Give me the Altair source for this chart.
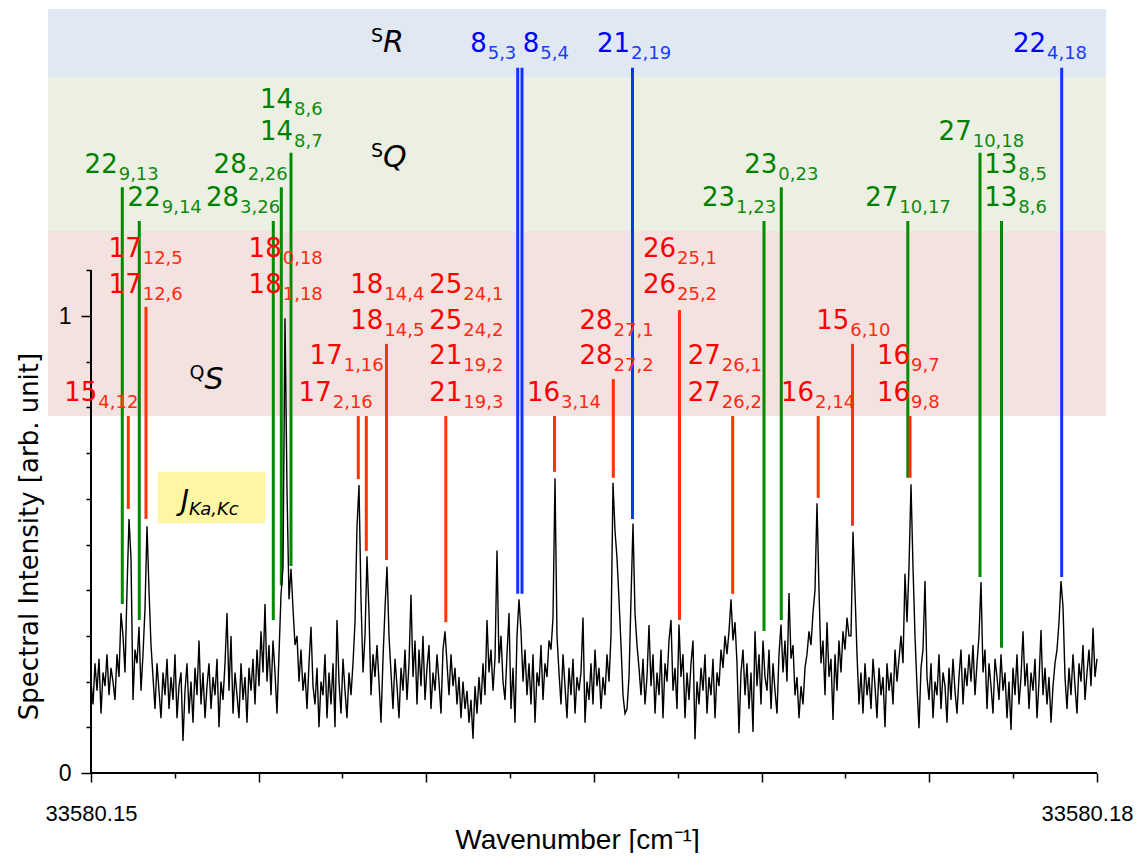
import altair as alt
import pandas as pd

# ---------------- spectrum (one value per ~2 px) ----------------
WN_START = 33580.15
WN_END = 33580.18
intensity = [
    0.20, 0.15, 0.24, 0.18, 0.25, 0.13, 0.22, 0.19, 0.26, 0.17,
    0.23, 0.20, 0.16, 0.26, 0.21, 0.35, 0.30, 0.22, 0.40, 0.556,
    0.47, 0.16, 0.27, 0.24, 0.32, 0.18, 0.26, 0.36, 0.54, 0.40,
    0.28, 0.21, 0.14, 0.24, 0.18, 0.12, 0.22, 0.17, 0.25, 0.14,
    0.21, 0.16, 0.26, 0.12, 0.19, 0.22, 0.07, 0.18, 0.24, 0.13,
    0.20, 0.11, 0.23, 0.17, 0.29, 0.15, 0.22, 0.12, 0.19, 0.24,
    0.14, 0.21, 0.17, 0.25, 0.10, 0.20, 0.16, 0.24, 0.35, 0.18,
    0.30, 0.13, 0.22, 0.17, 0.12, 0.24, 0.16, 0.21, 0.11, 0.23,
    0.18, 0.25, 0.15, 0.27, 0.19, 0.31, 0.22, 0.37, 0.20, 0.28,
    0.17, 0.29, 0.22, 0.13, 0.26, 0.39, 0.45, 0.995, 0.62, 0.38,
    0.447, 0.36, 0.28, 0.30, 0.20, 0.27, 0.18, 0.22, 0.14, 0.24,
    0.32, 0.19, 0.15, 0.23, 0.10, 0.20, 0.17, 0.26, 0.12, 0.22,
    0.15, 0.24, 0.10, 0.335, 0.20, 0.13, 0.25, 0.18, 0.12, 0.22,
    0.17, 0.24, 0.33, 0.54, 0.63, 0.38, 0.22, 0.30, 0.474, 0.35,
    0.17, 0.26, 0.21, 0.28, 0.20, 0.11, 0.25, 0.36, 0.452, 0.30,
    0.22, 0.14, 0.25, 0.19, 0.12, 0.23, 0.18, 0.27, 0.16, 0.24,
    0.39, 0.21, 0.29, 0.15, 0.27, 0.19, 0.30, 0.16, 0.23, 0.28,
    0.14, 0.22, 0.18, 0.26, 0.20, 0.13, 0.27, 0.31, 0.24, 0.17,
    0.26, 0.19, 0.23, 0.15, 0.21, 0.12, 0.20, 0.14, 0.18, 0.11,
    0.16, 0.075, 0.19, 0.13, 0.21, 0.15, 0.24, 0.17, 0.335, 0.22,
    0.27, 0.18, 0.25, 0.487, 0.24, 0.30, 0.20, 0.16, 0.26, 0.35,
    0.14, 0.23, 0.11, 0.30, 0.38, 0.31, 0.20, 0.27, 0.17, 0.24,
    0.15, 0.26, 0.11, 0.22, 0.19, 0.28, 0.16, 0.24, 0.21, 0.29,
    0.27, 0.34, 0.645, 0.30, 0.22, 0.15, 0.26, 0.19, 0.12, 0.23,
    0.17, 0.25, 0.13, 0.21, 0.18, 0.22, 0.34, 0.11, 0.20, 0.16,
    0.24, 0.15, 0.27, 0.19, 0.23, 0.14, 0.21, 0.17, 0.26, 0.20,
    0.30, 0.635, 0.53, 0.47, 0.38, 0.28, 0.17, 0.13, 0.14, 0.21,
    0.38, 0.546, 0.35, 0.28, 0.23, 0.17, 0.25, 0.15, 0.21, 0.324,
    0.19, 0.26, 0.13, 0.22, 0.17, 0.27, 0.12, 0.24, 0.20, 0.29,
    0.335, 0.18, 0.23, 0.14, 0.325, 0.21, 0.26, 0.12, 0.22, 0.16,
    0.24, 0.29, 0.074, 0.20, 0.15, 0.23, 0.18, 0.26, 0.13, 0.21,
    0.17, 0.25, 0.12, 0.22, 0.19, 0.27, 0.23, 0.30, 0.26, 0.31,
    0.38, 0.29, 0.33, 0.24, 0.087, 0.22, 0.27, 0.17, 0.24, 0.14,
    0.22, 0.09, 0.31, 0.19, 0.26, 0.15, 0.29, 0.21, 0.18, 0.27,
    0.14, 0.24, 0.18, 0.13, 0.26, 0.325, 0.22, 0.29, 0.20, 0.394,
    0.25, 0.28, 0.17, 0.21, 0.12, 0.19, 0.15, 0.23, 0.26, 0.31,
    0.28, 0.35, 0.40, 0.59, 0.40, 0.24, 0.29, 0.17, 0.33, 0.21,
    0.25, 0.116, 0.26, 0.18, 0.29, 0.22, 0.31, 0.27, 0.34, 0.30,
    0.30, 0.528, 0.395, 0.26, 0.15, 0.22, 0.13, 0.24, 0.17, 0.21,
    0.14, 0.25, 0.19, 0.12, 0.23, 0.17, 0.21, 0.10, 0.24, 0.18,
    0.22, 0.15, 0.27, 0.20, 0.25, 0.30, 0.24, 0.436, 0.33, 0.45,
    0.632, 0.45, 0.30, 0.19, 0.098, 0.23, 0.27, 0.42, 0.21, 0.16,
    0.24, 0.12, 0.20, 0.17, 0.26, 0.14, 0.22, 0.19, 0.11, 0.23,
    0.16, 0.25, 0.18, 0.13, 0.21, 0.27, 0.15, 0.23, 0.19, 0.26,
    0.20, 0.28, 0.17, 0.24, 0.30, 0.418, 0.22, 0.27, 0.14, 0.24,
    0.19, 0.13, 0.25, 0.21, 0.16, 0.26, 0.18, 0.22, 0.12, 0.20,
    0.094, 0.23, 0.17, 0.26, 0.15, 0.21, 0.31, 0.19, 0.24, 0.14,
    0.22, 0.18, 0.25, 0.12, 0.20, 0.313, 0.17, 0.23, 0.15, 0.21,
    0.11, 0.19, 0.24, 0.27, 0.33, 0.42, 0.364, 0.21, 0.14, 0.23,
    0.17, 0.26, 0.19, 0.13, 0.24, 0.20, 0.28, 0.16, 0.22, 0.27,
    0.19, 0.318, 0.21, 0.25,
]
n_pts = len(intensity)
wavenumber = [WN_START + (WN_END - WN_START) * i / (n_pts - 1) for i in range(n_pts)]

# ---------------- frame (shaded bands reach beyond the axes) ----------------
X_LEFT = 33580.1487177
X_RIGHT = 33580.1802684
Y_TOP = 1.6718

band_name = ["sR", "sQ", "qS"]
band_low = [1.5230, 1.1860, 0.7812]
band_high = [1.6718, 1.5230, 1.1860]
band_fill = ["#dfe8f3", "#ecf0e3", "#f4e2e1"]

# ---------------- assignment sticks ----------------
line_x = [
    33580.150933, 33580.151440, 33580.155436, 33580.155675, 33580.155964,
    33580.170070, 33580.170585, 33580.174358, 33580.176511, 33580.177152,
    33580.162725, 33580.162853, 33580.166148, 33580.178947,
    33580.151112, 33580.151640, 33580.157971, 33580.158210, 33580.158812,
    33580.160581, 33580.163822, 33580.165576, 33580.167550, 33580.169136,
    33580.171686, 33580.172709, 33580.174424,
]
line_bottom = [
    0.370, 0.335, 0.335, 0.411, 0.453, 0.311, 0.335, 0.646, 0.429, 0.274,
    0.392, 0.392, 0.556, 0.429,
    0.578, 0.556, 0.643, 0.486, 0.466, 0.330, 0.659, 0.646, 0.335, 0.392,
    0.602, 0.541, 0.646,
]
line_top = [
    1.282, 1.208, 1.208, 1.282, 1.357, 1.208, 1.282, 1.208, 1.357, 1.208,
    1.543, 1.543, 1.543, 1.543,
    0.781, 1.020, 0.781, 0.781, 0.939, 0.781, 0.781, 0.862, 1.013, 0.781,
    0.781, 0.939, 0.781,
]
line_branch = ["sQ"] * 10 + ["sR"] * 4 + ["qS"] * 13

# ---------------- J_{Ka,Kc} labels ----------------
label_x = [
    33580.161800, 33580.163369, 33580.166074, 33580.178479,
    33580.156024, 33580.156024, 33580.150796, 33580.152079, 33580.154643,
    33580.154414, 33580.176263, 33580.177623, 33580.177623, 33580.174074,
    33580.170466, 33580.169205,
    33580.151512, 33580.151512, 33580.155687, 33580.155687, 33580.158717,
    33580.158717, 33580.157506, 33580.157178, 33580.150188,
    33580.161073, 33580.161073, 33580.161073, 33580.161073,
    33580.167445, 33580.167445, 33580.165552, 33580.165552,
    33580.168781, 33580.168781, 33580.163986, 33580.172613, 33580.171561,
    33580.174424, 33580.174424,
]
label_y = [
    1.578, 1.578, 1.578, 1.578,
    1.456, 1.386, 1.312, 1.241, 1.312, 1.241, 1.386, 1.312, 1.241, 1.241,
    1.312, 1.241,
    1.129, 1.050, 1.129, 1.050, 1.050, 0.972, 0.894, 0.815, 0.815,
    1.050, 0.972, 0.894, 0.815,
    1.129, 1.050, 0.972, 0.894,
    0.894, 0.815, 0.815, 0.972, 0.815,
    0.894, 0.815,
]
label_j = [
    "8", "8", "21", "22",
    "14", "14", "22", "22", "28", "28", "27", "13", "13", "27", "23", "23",
    "17", "17", "18", "18", "18", "18", "17", "17", "15",
    "25", "25", "21", "21", "26", "26", "28", "28", "27", "27",
    "16", "15", "16", "16", "16",
]
label_k = [
    "5,3", "5,4", "2,19", "4,18",
    "8,6", "8,7", "9,13", "9,14", "2,26", "3,26", "10,18", "8,5", "8,6",
    "10,17", "0,23", "1,23",
    "12,5", "12,6", "0,18", "1,18", "14,4", "14,5", "1,16", "2,16", "4,12",
    "24,1", "24,2", "19,2", "19,3", "25,1", "25,2", "27,1", "27,2",
    "26,1", "26,2", "3,14", "6,10", "2,14", "9,7", "9,8",
]
label_branch = ["sR"] * 4 + ["sQ"] * 12 + ["qS"] * 24

# ---------------- branch names ----------------
region_x = [33580.158708, 33580.158708, 33580.153385]
region_y = [1.5777, 1.3260, 0.8403]
region_main = ["R", "Q", "S"]
region_sup = ["S", "S", "Q"]

# legend box "J_{Ka,Kc}"
key_box_x = [33580.151989]
key_box_x2 = [33580.155189]
key_box_y = [0.5464]
key_box_y2 = [0.6593]
key_x = [33580.152922]
key_y = [0.5755]

# axis ticks
x_ticks = [33580.15, 33580.1525, 33580.155, 33580.1575, 33580.16, 33580.1625,
           33580.165, 33580.1675, 33580.17, 33580.1725, 33580.175, 33580.1775, 33580.18]
x_major = [33580.15, 33580.155, 33580.16, 33580.165, 33580.17, 33580.175, 33580.18]
y_ticks = [0, 0.1, 0.2, 0.3, 0.4, 0.5, 0.6, 0.7, 0.8, 0.9, 1.0, 1.1]

# ---------------- styles ----------------
line_color = {"sR": "#1034ff", "sQ": "#008a00", "qS": "#ff3300"}
text_color = {"sR": "#0000ff", "sQ": "#008000", "qS": "#ff0000"}
sub_color = {"sR": "#1a3cff", "sQ": "#108a10", "qS": "#ff2a10"}
TXT_FONT = "DejaVu Sans"
AX_FONT = "Liberation Sans"

xs = alt.Scale(domain=[X_LEFT, X_RIGHT], nice=False, zero=False)
ys = alt.Scale(domain=[0, Y_TOP], nice=False, zero=False)

major_test = "indexof([" + ",".join(str(v) for v in x_major) + "], datum.value) >= 0"
x_axis = alt.Axis(
    values=x_ticks, domain=False, grid=False, zindex=1,
    labelExpr="datum.value == 33580.15 || datum.value == 33580.18 ? format(datum.value, '.2f') : ''",
    tickSize={"condition": {"test": major_test, "value": 9}, "value": 5},
    tickColor="black", tickWidth=1.5,
    labelFont=AX_FONT, labelFontSize=22, labelColor="black", labelPadding=21,
    labelOffset={"condition": {"test": "datum.value == 33580.18", "value": -10}, "value": 0},
    labelFlush=False, labelOverlap=False,
    title="Wavenumber [cm\u207b\u00b9]", titleFont=AX_FONT, titleFontSize=28,
    titleFontWeight="normal", titleColor="black",
    titleY=75, titleBaseline="alphabetic",
)
y_axis = alt.Axis(
    values=y_ticks, domain=False, grid=False, offset=-43, zindex=1,
    labelExpr="datum.value == 0 || datum.value == 1 ? format(datum.value, 'd') : ''",
    tickSize={"condition": {"test": "datum.value == 0 || datum.value == 1", "value": 10}, "value": 5},
    tickColor="black", tickWidth=1.5,
    labelFont=AX_FONT, labelFontSize=23, labelColor="black", labelPadding=10,
    labelOverlap=False,
    title="Spectral Intensity [arb. unit]", titleFont=TXT_FONT, titleFontSize=26,
    titleFontWeight="normal", titleColor="black",
    titleX=-62, titleY=527, titleAngle=270, titleAlign="center", titleBaseline="middle",
)


def X(field):
    return alt.X(field, type="quantitative", scale=xs, axis=x_axis)


def Y(field):
    return alt.Y(field, type="quantitative", scale=ys, axis=y_axis)


bands = pd.DataFrame({"name": band_name, "lo": band_low, "hi": band_high,
                      "fill": band_fill, "x0": [X_LEFT] * 3, "x1": [X_RIGHT] * 3})
sticks = pd.DataFrame({"x": line_x, "y0": line_bottom, "y1": line_top,
                       "c": [line_color[b] for b in line_branch]})
labels = pd.DataFrame({"x": label_x, "y": label_y, "j": label_j, "k": label_k,
                       "c": [text_color[b] for b in label_branch],
                       "c2": [sub_color[b] for b in label_branch]})
regions = pd.DataFrame({"x": region_x, "y": region_y, "m": region_main, "s": region_sup})
keybox = pd.DataFrame({"x": key_box_x, "x2": key_box_x2, "y": key_box_y, "y2": key_box_y2})
keytxt = pd.DataFrame({"x": key_x, "y": key_y, "m": ["J"], "s": ["Ka,Kc"]})
spec = pd.DataFrame({"x": wavenumber, "y": intensity})
xaxis_line = pd.DataFrame({"x": [WN_START], "x2": [WN_END], "y": [0.0]})
yaxis_line = pd.DataFrame({"x": [WN_START], "y": [0.0], "y2": [1.1]})

band_layer = alt.Chart(bands).mark_rect().encode(
    x=X("x0"), x2="x1", y=Y("lo"), y2="hi",
    color=alt.Color("fill:N", scale=None),
)
box_layer = alt.Chart(keybox).mark_rect(color="#fdf7a4").encode(
    x=X("x"), x2="x2", y=Y("y"), y2="y2",
)
stick_layer = alt.Chart(sticks).mark_rule(strokeWidth=3).encode(
    x=X("x"), y=Y("y0"), y2="y1",
    color=alt.Color("c:N", scale=None),
)
spec_layer = alt.Chart(spec).mark_line(color="black", strokeWidth=1.4).encode(
    x=X("x"), y=Y("y"),
)
xline_layer = alt.Chart(xaxis_line).mark_rule(color="black", strokeWidth=2).encode(
    x=X("x"), x2="x2", y=Y("y"),
)
yline_layer = alt.Chart(yaxis_line).mark_rule(color="black", strokeWidth=2).encode(
    x=X("x"), y=Y("y"), y2="y2",
)
num_layer = alt.Chart(labels).mark_text(
    align="right", baseline="alphabetic", font=TXT_FONT, fontSize=26
).encode(
    x=X("x"), y=Y("y"), text="j:N", color=alt.Color("c:N", scale=None),
)
sub_layer = alt.Chart(labels).mark_text(
    align="left", baseline="alphabetic", font=TXT_FONT, fontSize=18, dy=7, dx=1
).encode(
    x=X("x"), y=Y("y"), text="k:N", color=alt.Color("c2:N", scale=None),
)
reg_main = alt.Chart(regions).mark_text(
    align="left", baseline="alphabetic", font=TXT_FONT, fontSize=30,
    fontStyle="italic", color="black"
).encode(x=X("x"), y=Y("y"), text="m:N")
reg_sup = alt.Chart(regions).mark_text(
    align="right", baseline="alphabetic", font=TXT_FONT, fontSize=19,
    color="black", dy=-10
).encode(x=X("x"), y=Y("y"), text="s:N")
key_main = alt.Chart(keytxt).mark_text(
    align="right", baseline="alphabetic", font=TXT_FONT, fontSize=28,
    fontStyle="italic", color="black"
).encode(x=X("x"), y=Y("y"), text="m:N")
key_sub = alt.Chart(keytxt).mark_text(
    align="left", baseline="alphabetic", font=TXT_FONT, fontSize=18,
    fontStyle="italic", color="black", dy=5
).encode(x=X("x"), y=Y("y"), text="s:N")

chart = alt.layer(
    band_layer, box_layer, stick_layer, spec_layer, xline_layer, yline_layer,
    num_layer, sub_layer, reg_main, reg_sup, key_main, key_sub,
).properties(
    width=1058, height=764,
    autosize=alt.AutoSizeParams(type="none"),
    padding={"left": 40, "top": 1, "right": 28, "bottom": 80},
).configure(
    background="white",
    view=alt.ViewConfig(stroke=None),
)

chart.save("out.html", embed_options={"renderer": "svg", "actions": False})
